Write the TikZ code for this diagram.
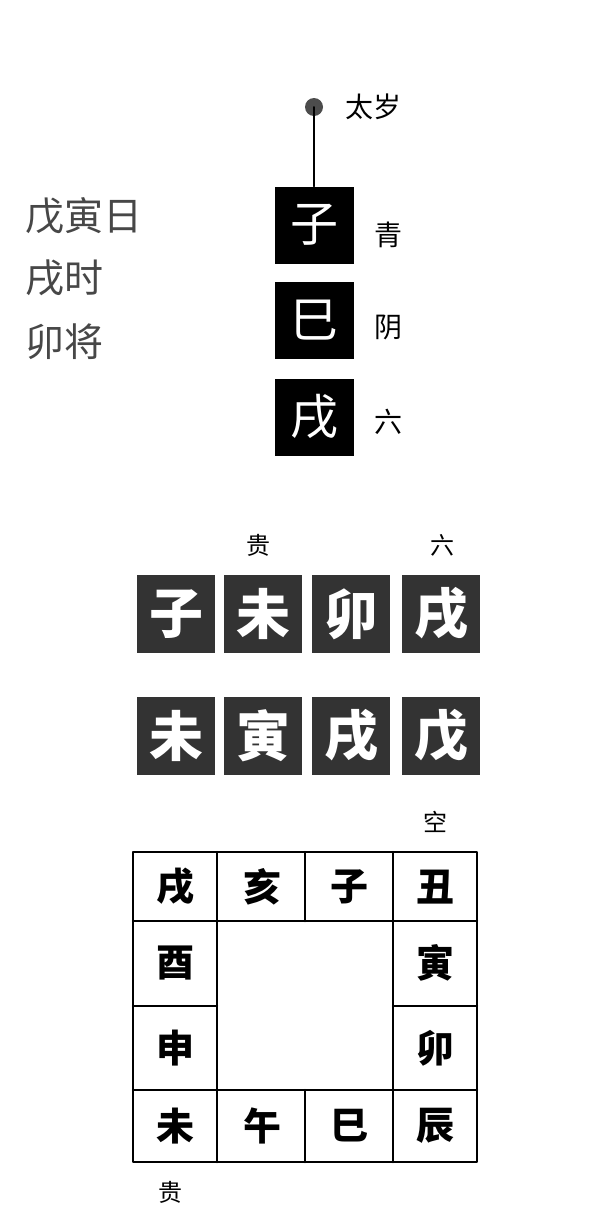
\documentclass[tikz,border=0pt]{standalone}
\usepackage{fontspec}
\newfontfamily\cjk{Noto Sans CJK SC}
\usetikzlibrary{positioning}

\tikzset{
  chuan/.style={fill=black, text=white, minimum width=79, minimum height=77, inner sep=0pt,
    font=\cjk\fontsize{48}{48}\selectfont},
  ke/.style={fill=black!80, text=white, minimum width=78, minimum height=78, inner sep=0pt,
    font=\cjk\bfseries\fontsize{54}{54}\selectfont},
  tag/.style={inner sep=0pt, font=\cjk\fontsize{28}{28}\selectfont},
  small tag/.style={inner sep=0pt, font=\cjk\fontsize{24}{24}\selectfont},
  gong/.style={inner sep=0pt, font=\cjk\bfseries\fontsize{38}{38}\selectfont},
  info/.style={inner sep=0pt, anchor=west, text=black!72, font=\cjk\fontsize{39}{39}\selectfont},
}

\begin{document}
\begin{tikzpicture}[x=1pt, y=-1pt, line cap=round, line join=round]
  \useasboundingbox (0,0) rectangle (612,1221);

  % day, hour, general
  \node[info] (ri)   at (25,216) {戊寅日};
  \node[info] (shi)  at (25,278) {戌时};
  \node[info] (jiang) at (25,342) {卯将};

  % three transmissions
  \coordinate (sui) at (314,107);
  \fill[black!70] (sui) circle (9);
  \node[tag, anchor=west] (taisui) at (345,107) {太岁};
  \node[chuan] (chu)   at (314,225) {子};
  \node[chuan] (zhong) at (314,320) {巳};
  \node[chuan] (mo)    at (314,417) {戌};
  \draw[line width=2pt] (sui) -- (chu.north);
  \node[tag] (qing) at (388,235) {青};
  \node[tag] (yin)  at (388,327) {阴};
  \node[tag] (liu)  at (388,422) {六};

  % four lessons
  \foreach \x/\top/\bot [count=\i] in {176/子/未, 263/未/寅, 351/卯/戌, 441/戌/戊} {
    \node[ke] (ke-up-\i) at (\x,614) {\top};
    \node[ke] (ke-dn-\i) at (\x,736) {\bot};
  }
  \node[small tag] (gui-ke) at (258,545) {贵};
  \node[small tag] (liu-ke) at (442,545) {六};
  \node[small tag] (kong)   at (435,822) {空};

  % plate
  \draw[line width=2.5pt] (133,852) rectangle (477,1162);
  \draw[line width=2.5pt] (217,921) rectangle (393,1090);
  \foreach \x in {217,305,393} {
    \draw[line width=2.5pt] (\x,852) -- (\x,921);
    \draw[line width=2.5pt] (\x,1090) -- (\x,1162);
  }
  \foreach \y in {921,1006,1090} {
    \draw[line width=2.5pt] (133,\y) -- (217,\y);
    \draw[line width=2.5pt] (393,\y) -- (477,\y);
  }
  \foreach \x/\y/\z [count=\i] in {175/887/戌, 262/887/亥, 349/887/子, 435/887/丑,
      435/963/寅, 435/1048/卯, 435/1126/辰, 349/1126/巳, 262/1126/午, 175/1126/未,
      175/1048/申, 175/963/酉} {
    \node[gong] (pan-\i) at (\x,\y) {\z};
  }
  \node[small tag] (gui-pan) at (170,1192) {贵};
\end{tikzpicture}
\end{document}
